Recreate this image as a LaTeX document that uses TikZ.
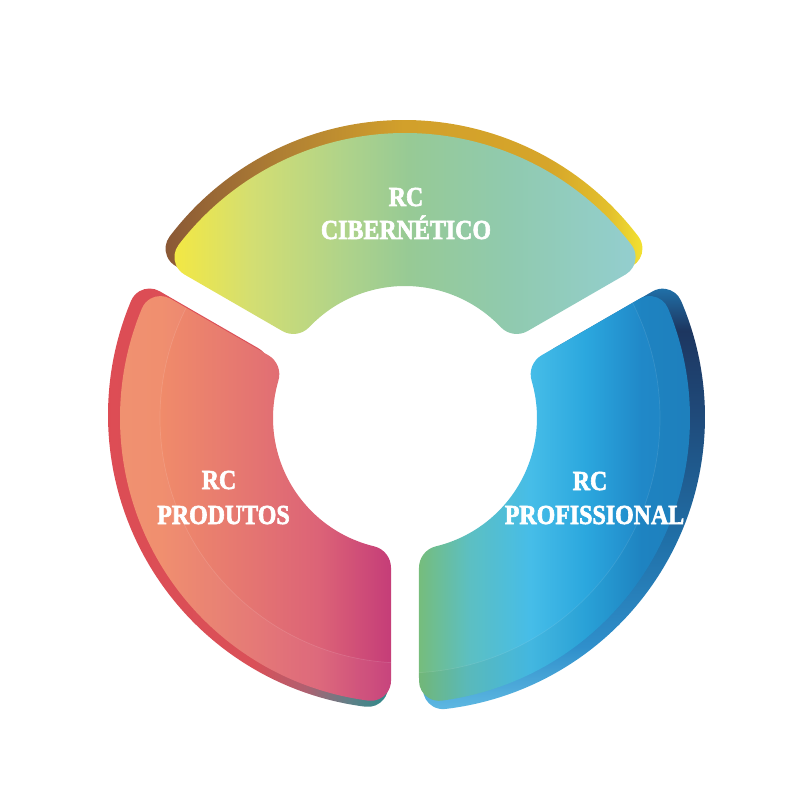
\documentclass[tikz,border=0pt]{standalone}
\usepackage{fontspec}
\newfontfamily\labfont[FakeStretch=0.87,FakeBold=2.2]{Liberation Serif}
\definecolor{tf0}{HTML}{F3E843}\definecolor{tf1}{HTML}{D3DE72}\definecolor{tf2}{HTML}{AFD38A}
\definecolor{tf3}{HTML}{97CA95}\definecolor{tf4}{HTML}{90CAAE}\definecolor{tf5}{HTML}{93CECF}
\definecolor{tb0}{HTML}{8A5836}\definecolor{tb1}{HTML}{B08033}\definecolor{tb2}{HTML}{D2A02B}
\definecolor{tb3}{HTML}{D6A52A}\definecolor{tb4}{HTML}{E3C02C}\definecolor{tb5}{HTML}{F2E232}
\definecolor{lf0}{HTML}{F08E6C}\definecolor{lf1}{HTML}{F08B6A}\definecolor{lf2}{HTML}{E57671}
\definecolor{lf3}{HTML}{DC6377}\definecolor{lf4}{HTML}{C53D78}
\definecolor{lb0}{HTML}{DD4C54}\definecolor{lb1}{HTML}{DA5058}\definecolor{lb2}{HTML}{B06070}
\definecolor{lb3}{HTML}{5F8088}\definecolor{lb4}{HTML}{2E8A8A}
\definecolor{rf0}{HTML}{76BD7C}\definecolor{rf1}{HTML}{5CBFC2}\definecolor{rf2}{HTML}{46BDE8}
\definecolor{rf3}{HTML}{2BA7DE}\definecolor{rf4}{HTML}{2088C8}\definecolor{rf5}{HTML}{1F84C3}
\definecolor{rb0}{HTML}{5EB8E2}\definecolor{rb1}{HTML}{2F8FCB}\definecolor{rb2}{HTML}{2070A8}
\definecolor{rb3}{HTML}{1F4A7A}\definecolor{rb4}{HTML}{1D3660}
\pgfdeclarehorizontalshading{topface}{100bp}{color(0bp)=(tf0); color(25bp)=(tf0); color(33.5bp)=(tf1); color(43.5bp)=(tf2); color(50.5bp)=(tf3); color(61bp)=(tf4); color(75bp)=(tf5); color(100bp)=(tf5)}
\pgfdeclarehorizontalshading{topback}{100bp}{color(0bp)=(tb0); color(25bp)=(tb0); color(37.5bp)=(tb1); color(50bp)=(tb2); color(65bp)=(tb3); color(71.5bp)=(tb4); color(75bp)=(tb5); color(100bp)=(tb5)}
\pgfdeclarehorizontalshading{leftface}{100bp}{color(0bp)=(lf0); color(25bp)=(lf0); color(35bp)=(lf1); color(50bp)=(lf2); color(62.5bp)=(lf3); color(75bp)=(lf4); color(100bp)=(lf4)}
\pgfdeclarehorizontalshading{leftback}{100bp}{color(0bp)=(lb0); color(25bp)=(lb0); color(52.5bp)=(lb1); color(61bp)=(lb2); color(68.5bp)=(lb3); color(75bp)=(lb4); color(100bp)=(lb4)}
\pgfdeclarehorizontalshading{rightface}{100bp}{color(0bp)=(rf0); color(25bp)=(rf0); color(34bp)=(rf1); color(45bp)=(rf2); color(55bp)=(rf3); color(65bp)=(rf4); color(75bp)=(rf5); color(100bp)=(rf5)}
\pgfdeclareverticalshading{rightback}{100bp}{color(0bp)=(rb0); color(25bp)=(rb0); color(32.5bp)=(rb1); color(45bp)=(rb2); color(60bp)=(rb3); color(70bp)=(rb4); color(75bp)=(rb2); color(100bp)=(rb2)}
% ring geometry: outer radius, half gap, inner radius
\def\sro{20}\def\sri{22}
\newcommand\setseg[3]{%
  \pgfmathsetmacro\sRo{#1}%
  \pgfmathsetmacro\sG{#2}%
  \pgfmathsetmacro\sRi{#3}%
  \pgfmathsetmacro\stO{10*sqrt(((\sRo-2*\sro-\sG)/10)*((\sRo+\sG)/10))}%
  \pgfmathsetmacro\saOc{atan((\sG+\sro)/\stO)}%
  \pgfmathsetmacro\saOe{atan(\sG/\stO)}%
  \pgfmathsetmacro\srOe{10*veclen(\stO/10,\sG/10)}%
  \pgfmathsetmacro\stI{10*sqrt(((\sRi-\sG)/10)*((\sRi+2*\sri+\sG)/10))}%
  \pgfmathsetmacro\saIc{atan((\sG+\sri)/\stI)}%
  \pgfmathsetmacro\saIe{atan(\sG/\stI)}%
  \pgfmathsetmacro\srIe{10*veclen(\stI/10,\sG/10)}%
}
\newcommand\segpath[2]{({#1+\saOe}:{\srOe pt})
  arc[start angle={#1-90}, end angle={#1+\saOc}, radius=\sro pt]
  arc[start angle={#1+\saOc}, end angle={#2-\saOc}, radius=\sRo pt]
  arc[start angle={#2-\saOc}, end angle={#2+90}, radius=\sro pt]
  -- ({#2-\saIe}:{\srIe pt})
  arc[start angle={#2+90}, end angle={#2+180-\saIc}, radius=\sri pt]
  arc[start angle={#2-\saIc}, end angle={#1+\saIc}, radius=\sRi pt]
  arc[start angle={#1+180+\saIc}, end angle={#1+270}, radius=\sri pt]
  -- cycle}
\tikzset{lab/.style={text=white, inner sep=0pt, anchor=base,
  font=\labfont\bfseries\fontsize{27.5}{30}\selectfont}}
\begin{document}
\begin{tikzpicture}
\useasboundingbox (-405pt,-382pt) rectangle (395pt,418pt);
% ---- back (edge) shapes
\setseg{294}{14}{140}
\begin{scope}[shift={(-1pt,4pt)}]
  \shade[shading=topback] \segpath{30}{150};
\end{scope}
\begin{scope}[shift={(-3pt,3pt)}]
  \shade[shading=leftback] \segpath{150}{270};
\end{scope}
\setseg{294}{12}{140}
\begin{scope}[shift={(6pt,1pt)}]
  \shade[shading=rightback] \segpath{-90}{30};
\end{scope}
% ---- front faces
\setseg{285}{14}{132}
\shade[shading=topface] \segpath{30}{150};
\shade[shading=leftface] \segpath{150}{270};
\shade[shading=rightface] \segpath{-90}{30};
% ---- subtle inner bands
\begin{scope}
  \clip \segpath{150}{270};
  \fill[white, fill opacity=0.04, even odd rule] (0,0) circle[radius=300pt] (0,0) circle[radius=245pt];
  \draw[white, opacity=0.12, line width=0.7pt] (0,0) circle[radius=245pt];
\end{scope}
\begin{scope}
  \clip \segpath{-90}{30};
  \fill[black, fill opacity=0.03, even odd rule] (0,0) circle[radius=300pt] (0,0) circle[radius=255pt];
  \draw[white, opacity=0.10, line width=0.7pt] (0,0) circle[radius=255pt];
\end{scope}
% ---- labels
\node[lab] (cyb1) at (1pt,212pt) {RC};
\node[lab] (cyb2) at (1pt,179pt) {CIBERNÉTICO};
\node[lab] (prd1) at (-186pt,-71pt) {RC};
\node[lab] (prd2) at (-181.5pt,-106pt) {PRODUTOS};
\node[lab] (prf1) at (185pt,-72pt) {RC};
\node[lab] (prf2) at (189.5pt,-106pt) {PROFISSIONAL};
\end{tikzpicture}
\end{document}
